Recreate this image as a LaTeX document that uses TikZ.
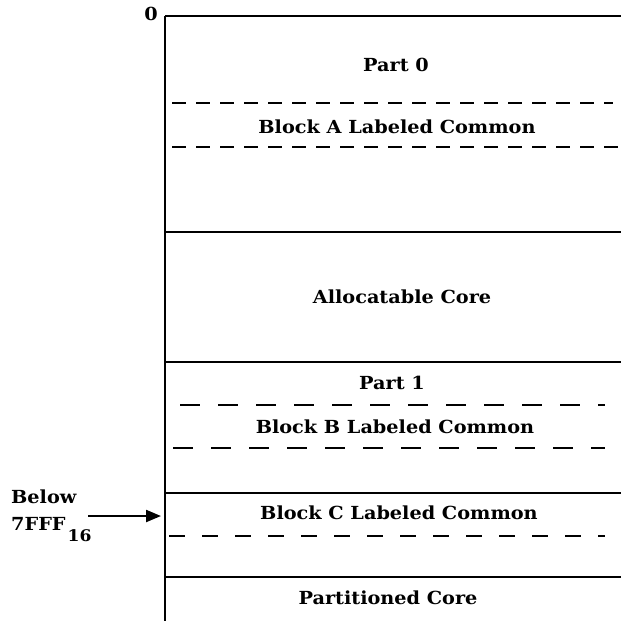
\documentclass[tikz,border=0pt]{standalone}
\usepackage{fontspec}
\setmainfont{DejaVu Serif}[FakeStretch=1.07]
\usetikzlibrary{arrows.meta}
\begin{document}
\begin{tikzpicture}[x=1pt,y=-1pt,
  wall/.style={line width=2pt},
  divider/.style={line width=2pt},
  split/.style={line width=1.6pt, dash pattern=on 14pt off 10pt},
  splitwide/.style={line width=1.6pt, dash pattern=on 20pt off 18pt},
  label/.style={font=\bfseries\fontsize{18}{21}\selectfont, inner sep=0pt, anchor=center},
]
\useasboundingbox (0,0) rectangle (621,621);

% address axis and region boundaries
\coordinate (axtop) at (165,16);
\coordinate (axbot) at (165,621);
\draw[wall] (axtop) -- (axbot);
\draw[divider] (axtop) -- (621,16);
\draw[divider] (165,232) -- (621,232);
\draw[divider] (165,362) -- (621,362);
\draw[divider] (165,493) -- (621,493);
\draw[divider] (165,577) -- (621,577);

% labeled common boundaries
\draw[split] (172,103) -- (613,103);
\draw[split] (172,147) -- (621,147);
\draw[splitwide] (180,405) -- (605,405);
\draw[splitwide] (173,448) -- (605,448);
\draw[splitwide, dash pattern=on 16pt off 17pt] (169,536) -- (605,536);

% origin mark
\node[label] (zero) at (151,14) {0};

% region names
\node[label] (part0) at (396,65) {Part 0};
\node[label] (blockA) at (397,127) {Block A Labeled Common};
\node[label] (alloc) at (402,297) {Allocatable Core};
\node[label] (part1) at (392,383) {Part 1};
\node[label] (blockB) at (395,427) {Block B Labeled Common};
\node[label] (blockC) at (399,513) {Block C Labeled Common};
\node[label] (parted) at (388,598) {Partitioned Core};

% limit marker
\node[label, anchor=north west, align=left] (below) at (11,490)
  {Below\\[6pt]7FFF\hspace{2pt}\raisebox{-11pt}{\fontsize{16}{18}\selectfont 16}};
\coordinate (limit) at (161,516);
\draw[line width=2.2pt, -{Triangle[length=15pt,width=12pt]}] (88,516) -- (limit);
\end{tikzpicture}
\end{document}
